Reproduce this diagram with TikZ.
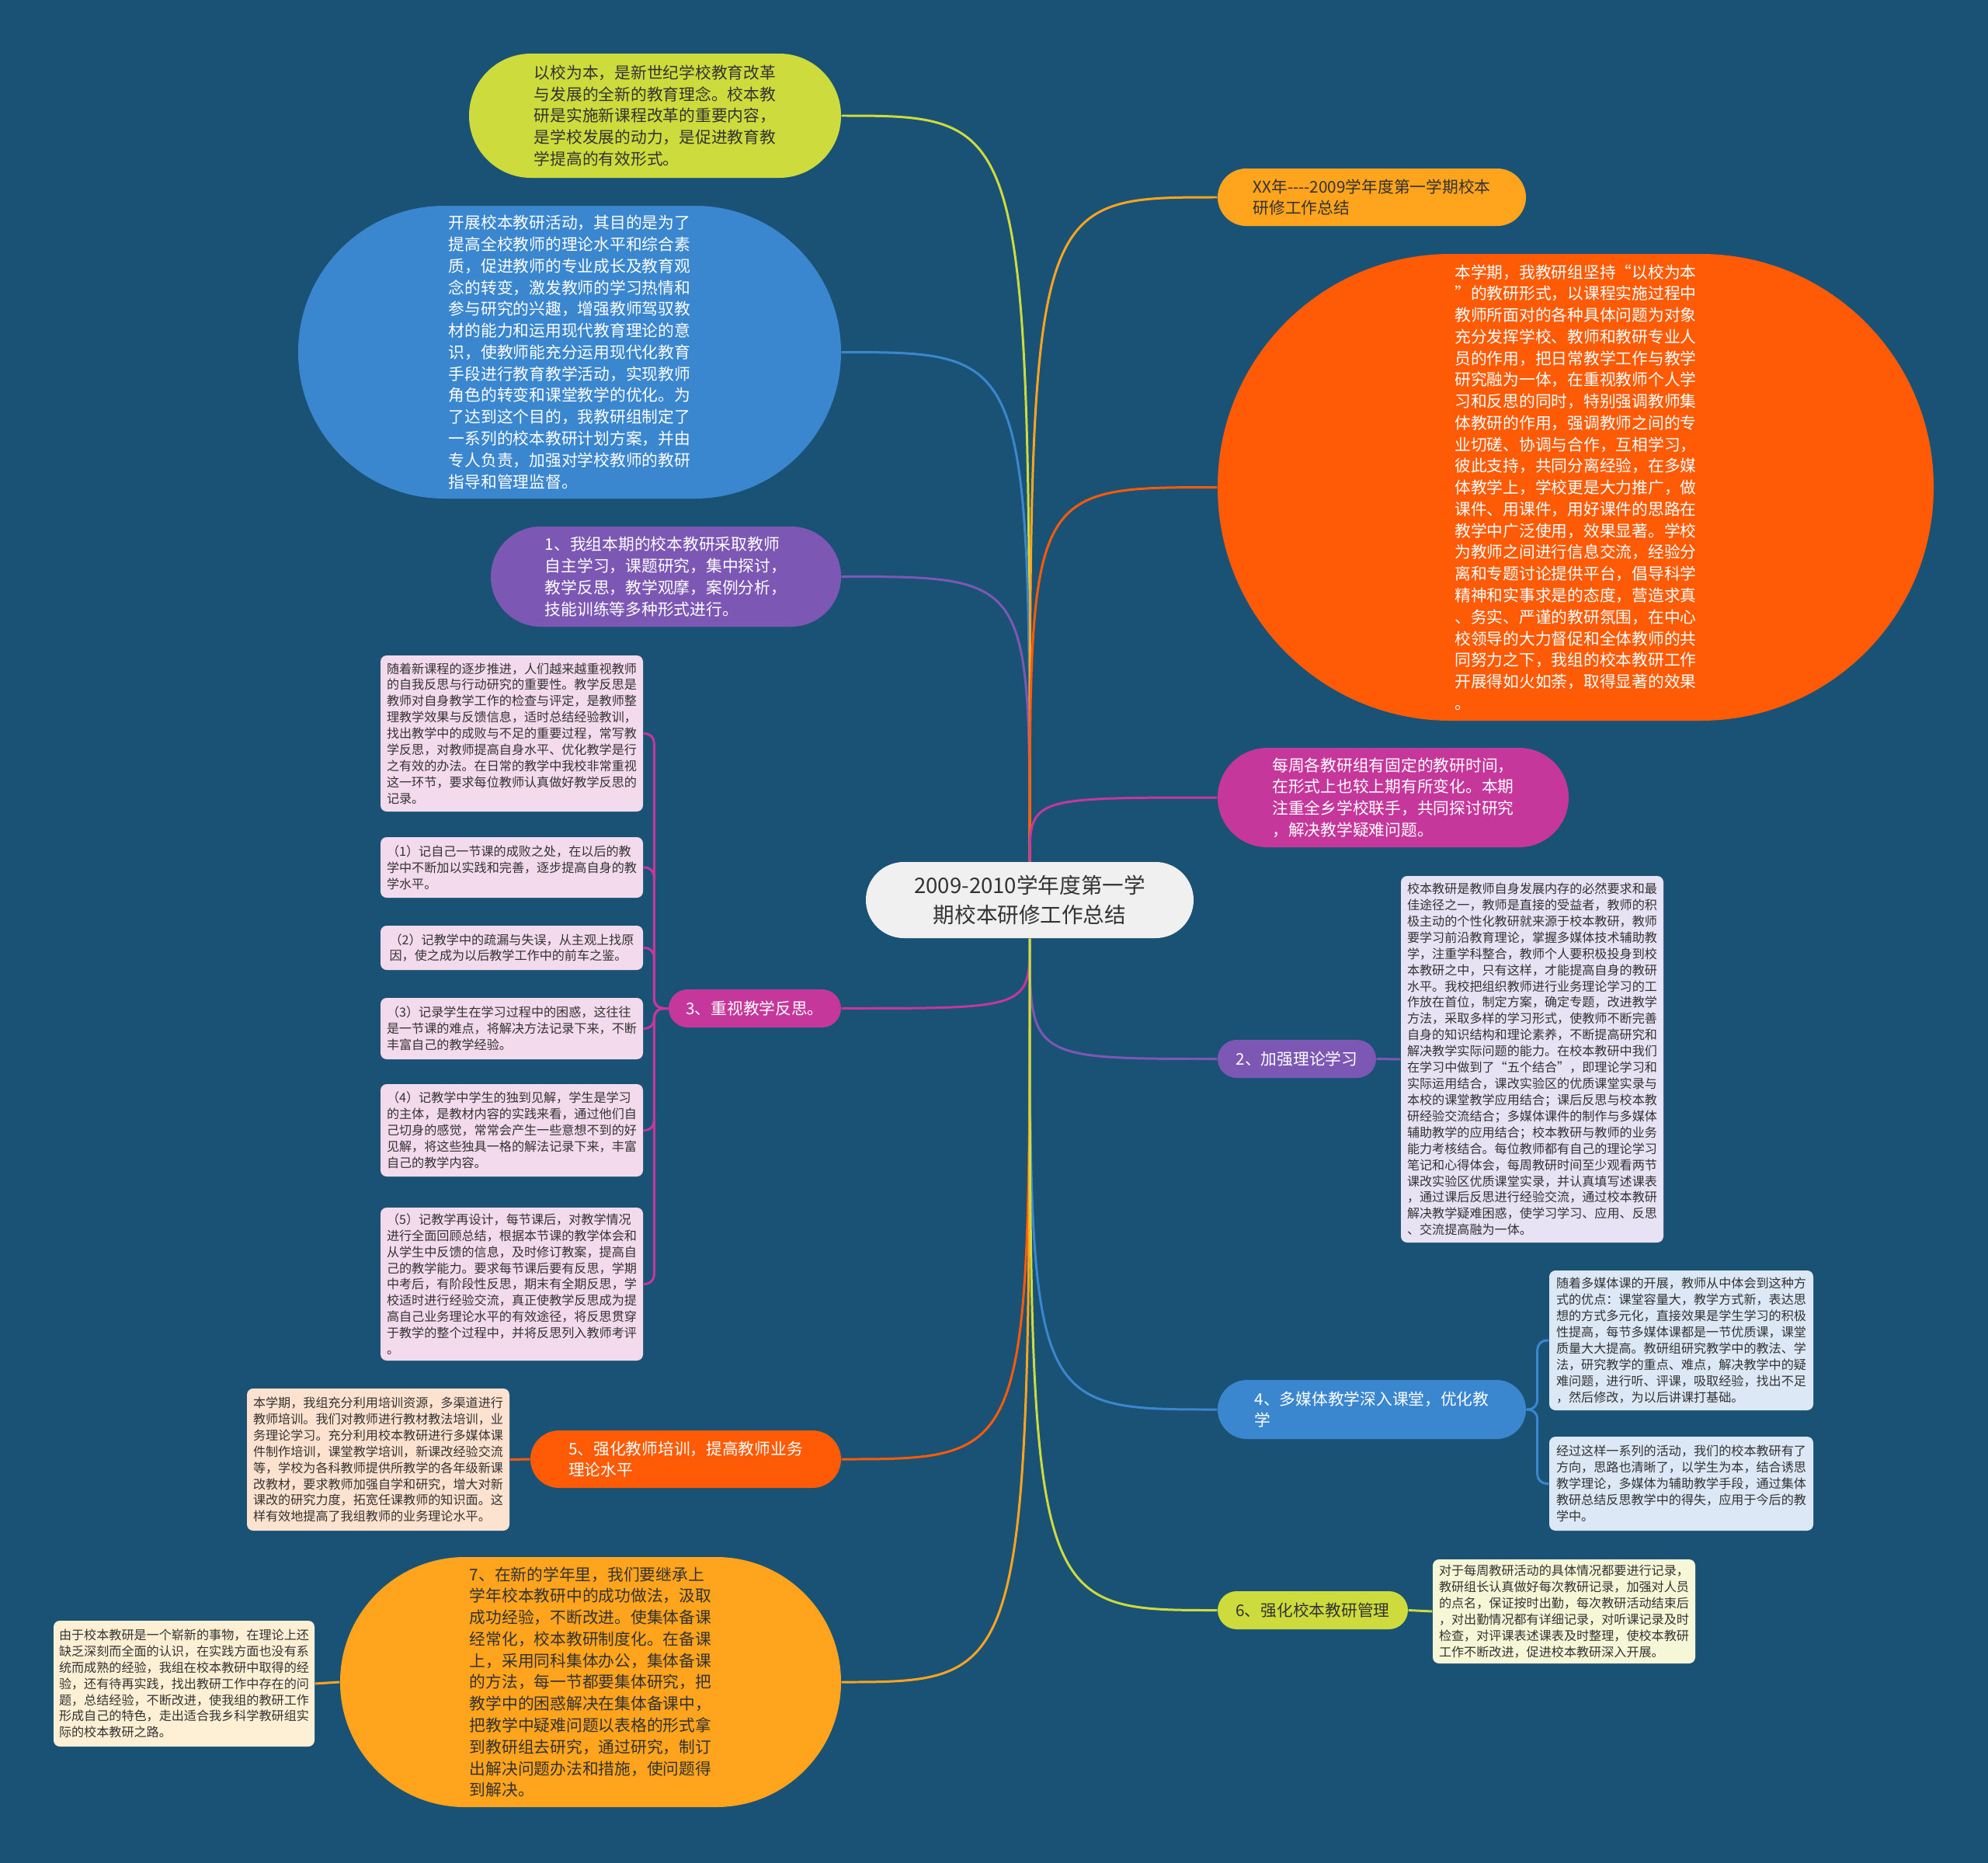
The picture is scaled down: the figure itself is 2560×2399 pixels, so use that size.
\documentclass[tikz,border=0pt]{standalone}
\usepackage{fontspec}
\setmainfont{Noto Sans CJK SC}
\usepackage{tikz}

\definecolor{bgc}{HTML}{1A5276}
\definecolor{txt}{HTML}{333333}
\definecolor{ctrc}{HTML}{F0F0F0}
\definecolor{ygc}{HTML}{CDDB3C}
\definecolor{bluec}{HTML}{3A87CF}
\definecolor{purc}{HTML}{7D57B4}
\definecolor{magc}{HTML}{C5379A}
\definecolor{orc}{HTML}{FF5A05}
\definecolor{yoc}{HTML}{FFA41C}
\definecolor{pinkc}{HTML}{F3DAEC}
\definecolor{peachc}{HTML}{FDE2CF}
\definecolor{creamc}{HTML}{FDF0D5}
\definecolor{lavc}{HTML}{E7E2F4}
\definecolor{lbc}{HTML}{DCE8F5}
\definecolor{ylc}{HTML}{F6F7D7}

\begin{document}
\begin{tikzpicture}[x=0.1mm,y=-0.1mm,
    every node/.style={inner sep=0pt,align=left},
    big/.style={font=\fontsize{5.9pt}{7.9pt}\selectfont},
    pill/.style 2 args={big,minimum width=#1*0.1mm,minimum height=#2*0.1mm,rounded corners=#2*0.0499mm},
    leaf/.style 2 args={font=\fontsize{4.58pt}{5.95pt}\selectfont,text=txt,minimum width=#1*0.1mm,minimum height=#2*0.1mm,rounded corners=0.8mm},
    link/.style={line width=0.85pt}]
  \useasboundingbox (0,0) rectangle (2560,2399);
  \fill[bgc] (0,0) rectangle (2560,2399);

  \node[pill={422}{98},fill=ctrc,text=txt,font=\fontsize{7.85pt}{10.7pt}\selectfont,align=center] (ctr) at (1326,1159) {2009-2010学年度第一学\\期校本研修工作总结};

  \node[pill={479}{160},fill=ygc,text=txt] (yl1) at (843.5,149) {以校为本，是新世纪学校教育改革\\与发展的全新的教育理念。校本教\\研是实施新课程改革的重要内容，\\是学校发展的动力，是促进教育教\\学提高的有效形式。};
  \node[pill={699}{377},fill=bluec,text=white] (bl1) at (733.5,453.5) {开展校本教研活动，其目的是为了\\提高全校教师的理论水平和综合素\\质，促进教师的专业成长及教育观\\念的转变，激发教师的学习热情和\\参与研究的兴趣，增强教师驾驭教\\材的能力和运用现代教育理论的意\\识，使教师能充分运用现代化教育\\手段进行教育教学活动，实现教师\\角色的转变和课堂教学的优化。为\\了达到这个目的，我教研组制定了\\一系列的校本教研计划方案，并由\\专人负责，加强对学校教师的教研\\指导和管理监督。};
  \node[pill={451}{129},fill=purc,text=white] (pu1) at (857.5,742.5) {1、我组本期的校本教研采取教师\\自主学习，课题研究，集中探讨，\\教学反思，教学观摩，案例分析，\\技能训练等多种形式进行。};
  \node[pill={222}{49},fill=magc,text=white] (mg3) at (972,1298.5) {3、重视教学反思。};
  \node[pill={400}{74},fill=orc,text=white] (or5) at (883,1879) {5、强化教师培训，提高教师业务\\理论水平};
  \node[pill={645}{322},fill=yoc,text=txt] (ye7) at (760.5,2166) {7、在新的学年里，我们要继承上\\学年校本教研中的成功做法，汲取\\成功经验，不断改进。使集体备课\\经常化，校本教研制度化。在备课\\上，采用同科集体办公，集体备课\\的方法，每一节都要集体研究，把\\教学中的困惑解决在集体备课中，\\把教学中疑难问题以表格的形式拿\\到教研组去研究，通过研究，制订\\出解决问题办法和措施，使问题得\\到解决。};

  \node[pill={397}{74},fill=yoc,text=txt] (xx) at (1766.5,254) {XX年-{}-{}-{}-2009学年度第一学期校本\\研修工作总结};
  \node[pill={922}{601},fill=orc,text=white] (ob) at (2029,627.5) {本学期，我教研组坚持“以校为本\\”的教研形式，以课程实施过程中\\教师所面对的各种具体问题为对象\\充分发挥学校、教师和教研专业人\\员的作用，把日常教学工作与教学\\研究融为一体，在重视教师个人学\\习和反思的同时，特别强调教师集\\体教研的作用，强调教师之间的专\\业切磋、协调与合作，互相学习，\\彼此支持，共同分离经验，在多媒\\体教学上，学校更是大力推广，做\\课件、用课件，用好课件的思路在\\教学中广泛使用，效果显著。学校\\为教师之间进行信息交流，经验分\\离和专题讨论提供平台，倡导科学\\精神和实事求是的态度，营造求真\\、务实、严谨的教研氛围，在中心\\校领导的大力督促和全体教师的共\\同努力之下，我组的校本教研工作\\开展得如火如荼，取得显著的效果\\。};
  \node[pill={452}{128},fill=magc,text=white] (mgw) at (1794,1027) {每周各教研组有固定的教研时间，\\在形式上也较上期有所变化。本期\\注重全乡学校联手，共同探讨研究\\，解决教学疑难问题。};
  \node[pill={204}{49},fill=purc,text=white] (pu2) at (1670,1363.5) {2、加强理论学习};
  \node[pill={397}{76},fill=bluec,text=white] (bl4) at (1766.5,1815) {4、多媒体教学深入课堂，优化教\\学};
  \node[pill={245}{49},fill=ygc,text=txt] (yg6) at (1690.5,2073.5) {6、强化校本教研管理};

  \node[leaf={338}{201},fill=pinkc] (pk0) at (659,944.5) {随着新课程的逐步推进，人们越来越重视教师\\的自我反思与行动研究的重要性。教学反思是\\教师对自身教学工作的检查与评定，是教师整\\理教学效果与反馈信息，适时总结经验教训，\\找出教学中的成败与不足的重要过程，常写教\\学反思，对教师提高自身水平、优化教学是行\\之有效的办法。在日常的教学中我校非常重视\\这一环节，要求每位教师认真做好教学反思的\\记录。};
  \node[leaf={338}{78},fill=pinkc] (pk1) at (659,1117) {（1）记自己一节课的成败之处，在以后的教\\学中不断加以实践和完善，逐步提高自身的教\\学水平。};
  \node[leaf={338}{57},fill=pinkc] (pk2) at (659,1220.5) {（2）记教学中的疏漏与失误，从主观上找原\\因，使之成为以后教学工作中的前车之鉴。};
  \node[leaf={338}{79},fill=pinkc] (pk3) at (659,1324.5) {（3）记录学生在学习过程中的困惑，这往往\\是一节课的难点，将解决方法记录下来，不断\\丰富自己的教学经验。};
  \node[leaf={338}{119},fill=pinkc] (pk4) at (659,1455.5) {（4）记教学中学生的独到见解，学生是学习\\的主体，是教材内容的实践来看，通过他们自\\己切身的感觉，常常会产生一些意想不到的好\\见解，将这些独具一格的解法记录下来，丰富\\自己的教学内容。};
  \node[leaf={338}{197},fill=pinkc] (pk5) at (659,1653.5) {（5）记教学再设计，每节课后，对教学情况\\进行全面回顾总结，根据本节课的教学体会和\\从学生中反馈的信息，及时修订教案，提高自\\己的教学能力。要求每节课后要有反思，学期\\中考后，有阶段性反思，期末有全期反思，学\\校适时进行经验交流，真正使教学反思成为提\\高自己业务理论水平的有效途径，将反思贯穿\\于教学的整个过程中，并将反思列入教师考评\\。};
  \node[leaf={338}{183},fill=peachc] (pc5) at (487,1879.5) {本学期，我组充分利用培训资源，多渠道进行\\教师培训。我们对教师进行教材教法培训，业\\务理论学习。充分利用校本教研进行多媒体课\\件制作培训，课堂教学培训，新课改经验交流\\等，学校为各科教师提供所教学的各年级新课\\改教材，要求教师加强自学和研究，增大对新\\课改的研究力度，拓宽任课教师的知识面。这\\样有效地提高了我组教师的业务理论水平。};
  \node[leaf={336}{162},fill=creamc] (cr7) at (237,2168) {由于校本教研是一个崭新的事物，在理论上还\\缺乏深刻而全面的认识，在实践方面也没有系\\统而成熟的经验，我组在校本教研中取得的经\\验，还有待再实践，找出教研工作中存在的问\\题，总结经验，不断改进，使我组的教研工作\\形成自己的特色，走出适合我乡科学教研组实\\际的校本教研之路。};
  \node[leaf={338}{472},fill=lavc] (lv2) at (1973,1364) {校本教研是教师自身发展内存的必然要求和最\\佳途径之一，教师是直接的受益者，教师的积\\极主动的个性化教研就来源于校本教研，教师\\要学习前沿教育理论，掌握多媒体技术辅助教\\学，注重学科整合，教师个人要积极投身到校\\本教研之中，只有这样，才能提高自身的教研\\水平。我校把组织教师进行业务理论学习的工\\作放在首位，制定方案，确定专题，改进教学\\方法，采取多样的学习形式，使教师不断完善\\自身的知识结构和理论素养，不断提高研究和\\解决教学实际问题的能力。在校本教研中我们\\在学习中做到了“五个结合”，即理论学习和\\实际运用结合，课改实验区的优质课堂实录与\\本校的课堂教学应用结合；课后反思与校本教\\研经验交流结合；多媒体课件的制作与多媒体\\辅助教学的应用结合；校本教研与教师的业务\\能力考核结合。每位教师都有自己的理论学习\\笔记和心得体会，每周教研时间至少观看两节\\课改实验区优质课堂实录，并认真填写述课表\\，通过课后反思进行经验交流，通过校本教研\\解决教学疑难困惑，使学习学习、应用、反思\\、交流提高融为一体。};
  \node[leaf={340}{180},fill=lbc] (lb4a) at (2165,1726) {随着多媒体课的开展，教师从中体会到这种方\\式的优点：课堂容量大，教学方式新，表达思\\想的方式多元化，直接效果是学生学习的积极\\性提高，每节多媒体课都是一节优质课，课堂\\质量大大提高。教研组研究教学中的教法、学\\法，研究教学的重点、难点，解决教学中的疑\\难问题，进行听、评课，吸取经验，找出不足\\，然后修改，为以后讲课打基础。};
  \node[leaf={340}{121},fill=lbc] (lb4b) at (2165,1910.5) {经过这样一系列的活动，我们的校本教研有了\\方向，思路也清晰了，以学生为本，结合诱思\\教学理论，多媒体为辅助教学手段，通过集体\\教研总结反思教学中的得失，应用于今后的教\\学中。};
  \node[leaf={338}{134},fill=ylc] (yl6) at (2014,2075) {对于每周教研活动的具体情况都要进行记录，\\教研组长认真做好每次教研记录，加强对人员\\的点名，保证按时出勤，每次教研活动结束后\\，对出勤情况都有详细记录，对听课记录及时\\检查，对评课表述课表及时整理，使校本教研\\工作不断改进，促进校本教研深入开展。};

  \foreach \n/\c in {yl1/ygc,bl1/bluec,pu1/purc}
    \draw[link,\c] (ctr.north) .. controls (ctr.north |- \n.east) .. (\n.east);
  \foreach \n/\c in {xx/yoc,ob/orc,mgw/magc}
    \draw[link,\c] (ctr.north) .. controls (ctr.north |- \n.west) .. (\n.west);
  \foreach \n/\c in {mg3/magc,or5/orc,ye7/yoc}
    \draw[link,\c] (ctr.south) .. controls (ctr.south |- \n.east) .. (\n.east);
  \foreach \n/\c in {pu2/purc,bl4/bluec,yg6/ygc}
    \draw[link,\c] (ctr.south) .. controls (ctr.south |- \n.west) .. (\n.west);

  \foreach \n in {pk0,pk1,pk2,pk3,pk4,pk5}
    \draw[link,magc,rounded corners=1.2mm] (mg3.west) -- ++(-18,0) |- (\n.east);
  \foreach \n in {lb4a,lb4b}
    \draw[link,bluec,rounded corners=1.2mm] (bl4.east) -- ++(14,0) |- (\n.west);
  \draw[link,orc] (or5.west) -- (pc5.east);
  \draw[link,yoc] (ye7.west) -- (cr7.east);
  \draw[link,purc] (pu2.east) -- (lv2.west);
  \draw[link,ygc] (yg6.east) -- (yl6.west);
\end{tikzpicture}
\end{document}
